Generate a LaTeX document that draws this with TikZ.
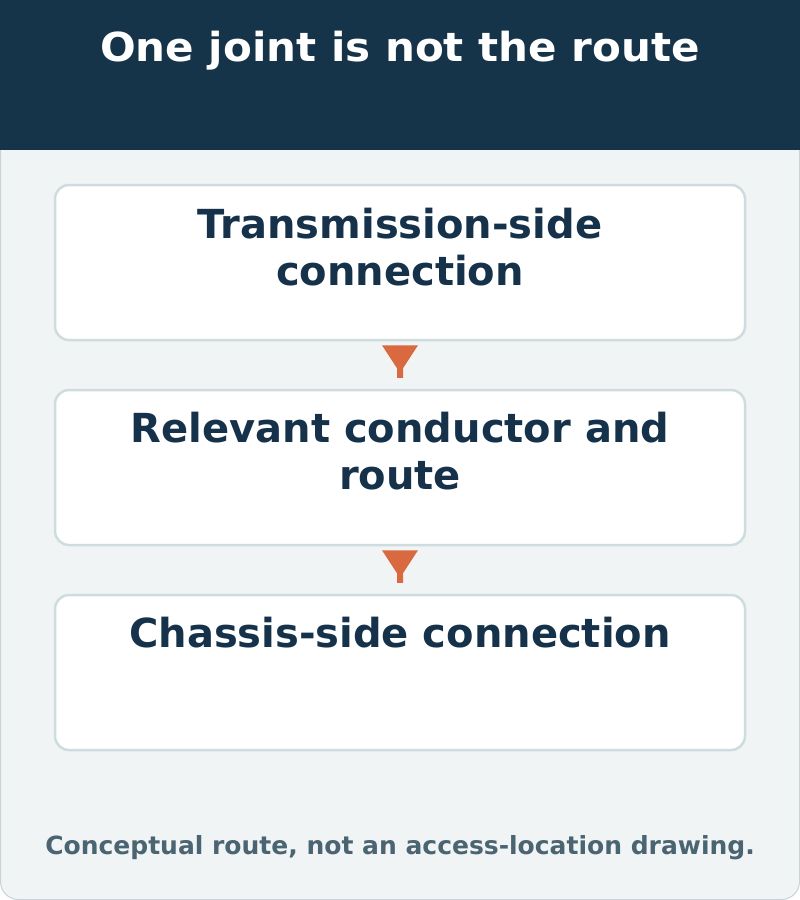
\documentclass[tikz,border=0pt]{standalone}
\usepackage{fontspec}
\setmainfont{DejaVu Sans}
\usetikzlibrary{calc}
\definecolor{headbg}{HTML}{163449}
\definecolor{cardbg}{HTML}{F0F4F5}
\definecolor{cardline}{HTML}{C9D4D8}
\definecolor{boxline}{HTML}{CFDCDF}
\definecolor{boxtext}{HTML}{15324A}
\definecolor{arrowc}{HTML}{D9693F}
\definecolor{foottext}{HTML}{4A6571}
\tikzset{
  x=1pt, y=-1pt,
  stepbox/.style={draw=boxline, line width=2.5pt, fill=white, rounded corners=14pt,
    minimum width=690pt, minimum height=155pt, inner sep=0pt},
  boxlabel/.style={text=boxtext, font=\fontsize{40}{47}\bfseries\selectfont, align=center, anchor=base, inner sep=0pt},
}
\begin{document}
\begin{tikzpicture}
\useasboundingbox (0,0) rectangle (800,900);
\fill[white] (0,0) rectangle (800,900);
% card
\filldraw[fill=cardbg, draw=cardline, line width=1pt, rounded corners=18pt]
  (0.5,-20) -- (0.5,899.5) -- (799.5,899.5) -- (799.5,-20) -- cycle;
% header
\fill[headbg] (0,0) rectangle (800,150);
\node[text=white, font=\fontsize{40}{48}\bfseries\selectfont, anchor=base, inner sep=0pt, xscale=1.05] (title) at (400,61) {One joint is not the route};
% boxes
\node[stepbox] (b1) at (400,262.5) {};
\node[stepbox] (b2) at (400,467.5) {};
\node[stepbox] (b3) at (400,672.5) {};
\node[boxlabel] (t1) at ($(b1.north)+(0,102)$) {Transmission-side\\connection};
\node[boxlabel] (t2) at ($(b2.north)+(0,101)$) {Relevant conductor and\\route};
\node[boxlabel] (t3) at ($(b3.north)+(0,54)$) {Chassis-side connection};
% arrows
\foreach \a/\b in {b1/b2, b2/b3}{
  \fill[arrowc] ($(\a.south)+(-18,4)$) -- ($(\a.south)+(18,4)$) -- ($(\a.south)+(3,27)$)
    -- ($(\b.north)+(3,-11)$) -- ($(\b.north)+(-3,-11)$) -- ($(\a.south)+(-3,27)$) -- cycle;
}
% footer
\node[text=foottext, font=\fontsize{25}{30}\bfseries\selectfont, anchor=base, inner sep=0pt] (foot) at (400,854) {Conceptual route, not an access-location drawing.};
\end{tikzpicture}
\end{document}
